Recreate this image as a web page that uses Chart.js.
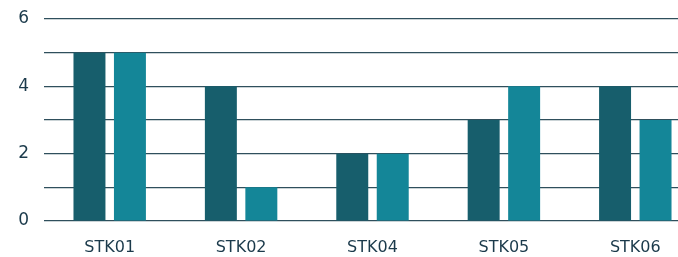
<!DOCTYPE html>
<html><head><meta charset="utf-8">
<script src="https://cdn.jsdelivr.net/npm/chart.js@4"></script>
<style>html,body{margin:0;padding:0;background:#fff;overflow:hidden;width:678px;height:257px}#w{width:701px;height:257px;position:relative}canvas{display:block}</style>
</head><body><div id="w"><canvas id="c"></canvas></div>
<script>
const categories = ["STK01","STK02","STK04","STK05","STK06"];
const seriesA = [5,4,2,3,4];
const seriesB = [5,1,2,4,3];
const yTicks = [0,2,4,6];
const textColor = '#1b3a4b';
new Chart(document.getElementById('c'), {
  type: 'bar',
  data: { labels: categories, datasets: [
    { label: 'A', data: seriesA, backgroundColor: '#175e6c', categoryPercentage: 0.616, barPercentage: 0.79 },
    { label: 'B', data: seriesB, backgroundColor: '#148698', categoryPercentage: 0.616, barPercentage: 0.79 }
  ]},
  options: {
    responsive: true, maintainAspectRatio: false, animation: false,
    layout: { padding: { top: 19, right: 0, bottom: 0, left: 0 } },
    plugins: { legend: { display: false }, tooltip: { enabled: false } },
    scales: {
      x: { grid: { display: false, drawTicks: false }, border: { display: false },
           afterFit: s => { s.height = 36; s.paddingLeft = 0; s.paddingRight = 0; },
           ticks: { color: textColor, font: { family: 'DejaVu Sans', size: 16 }, padding: 17 } },
      y: { min: 0, max: 6, border: { display: false },
           afterFit: s => { s.width = 44; s.paddingTop = 0; s.paddingBottom = 0; },
           grid: { color: '#2f4f5c', lineWidth: 1.2, drawTicks: false },
           ticks: { stepSize: 1, padding: 15, color: textColor, font: { family: 'DejaVu Sans', size: 17 },
                    callback: v => yTicks.includes(v) ? String(v) : '' } }
    }
  }
});
</script></body></html>
